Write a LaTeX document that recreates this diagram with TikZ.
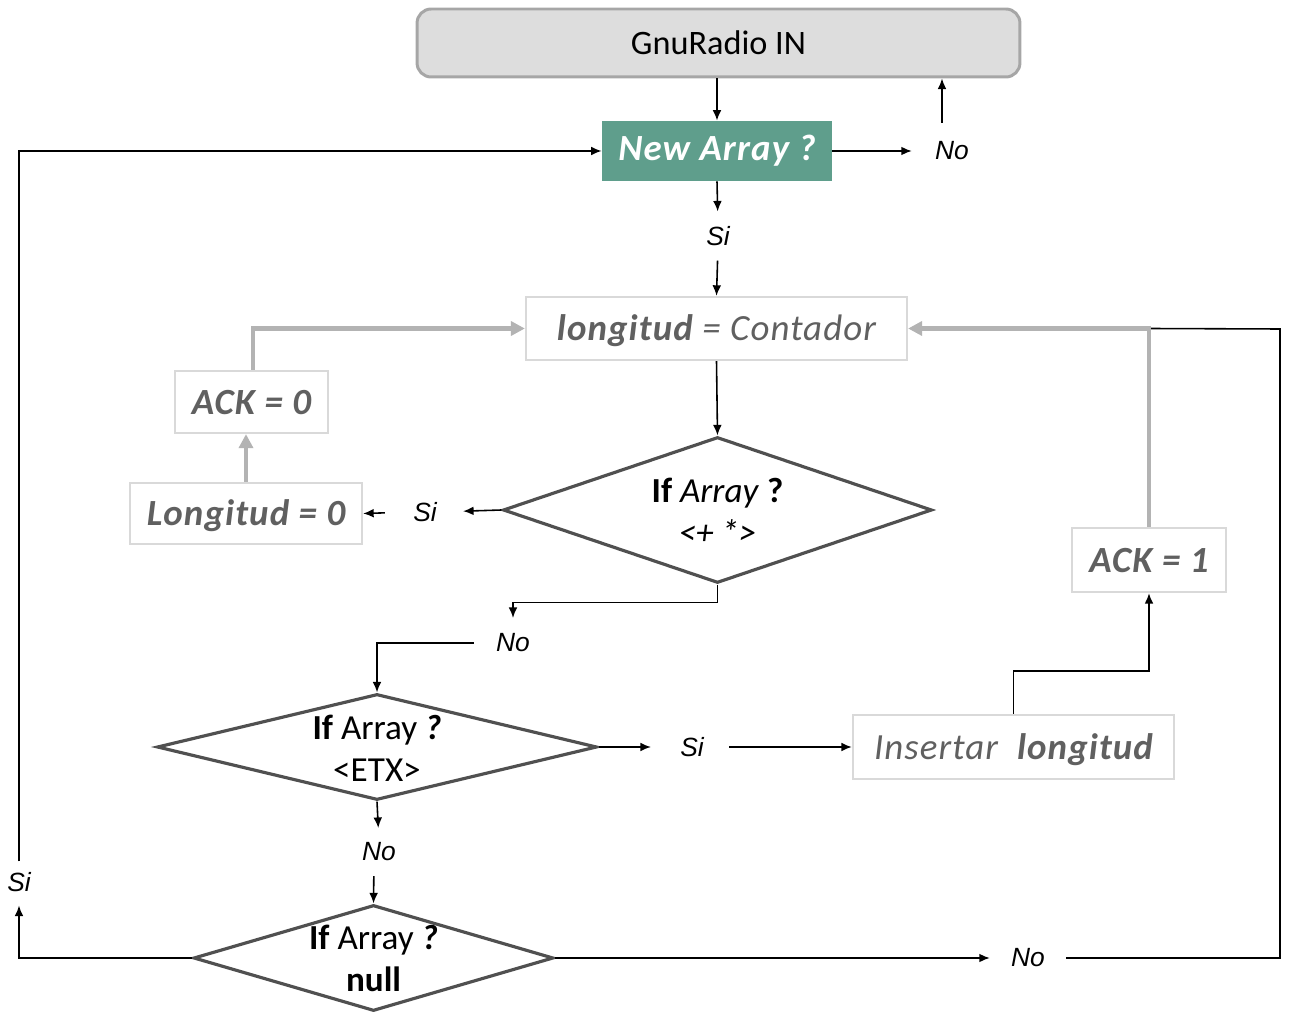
\documentclass[tikz,border=0pt]{standalone}
\usepackage{fontspec}
\setmainfont{Carlito}
\newfontfamily\answerfont{Liberation Sans}
\newfontfamily\stepfont[LetterSpace=3]{Carlito}
\usepackage{xcolor}
\usetikzlibrary{arrows.meta, positioning, shapes.geometric, calc}

\definecolor{arraygreen}{HTML}{5F9E8C}
\definecolor{sourcefill}{HTML}{DDDDDD}
\definecolor{sourcerim}{HTML}{A6A6A6}
\definecolor{stepgray}{HTML}{606060}
\definecolor{stepedge}{HTML}{D9D9D9}
\definecolor{feedgray}{HTML}{B3B3B3}
\definecolor{diamondgray}{HTML}{505050}

\begin{document}
\begin{tikzpicture}[
    x=0.02cm, y=-0.02cm,
    flow/.style={-{Latex[length=6pt,width=5pt]}, line width=0.9pt},
    feed/.style={-{Triangle[length=8pt,width=8pt]}, line width=2.8pt, draw=feedgray},
    action/.style={draw=stepedge, line width=1.3pt, fill=white, text=stepgray,
                   inner sep=0pt, text height=17pt, text depth=3pt,
                   font=\stepfont\fontsize{21}{23}\selectfont\bfseries\itshape},
    decision/.style={diamond, draw=diamondgray, line width=1.8pt, inner sep=0pt},
    question/.style={align=center, inner sep=0pt, font=\fontsize{20}{24}\selectfont},
    answer/.style={font=\answerfont\itshape\fontsize{15}{17}\selectfont, inner sep=0pt}
  ]
    \useasboundingbox (0,0) rectangle (1289,1013);

    % source and first test
    \node[draw=sourcerim, line width=1.7pt, fill=sourcefill, rounded corners=8pt,
          minimum width=12.06cm, minimum height=1.36cm,
          font=\fontsize{19.5}{22}\selectfont] (gnu) at (718.5,43) {GnuRadio IN};
    \node[fill=arraygreen, text=white, minimum width=4.6cm, minimum height=1.2cm,
          font=\stepfont\fontsize{21}{23}\selectfont\bfseries\itshape] (newarr) at (717,151)
      {New Array ?};
    \node[answer] (no1) at (952,151) {No};
    \node[answer] (si1) at (718,236) {Si};

    % counter and the three tests
    \node[action, minimum width=7.62cm, minimum height=1.26cm] (long) at (716.5,328.5)
      {longitud \mdseries= Contador};
    \node[decision, minimum width=8.58cm, minimum height=2.92cm] (d1) at (717.5,510) {};
    \node[question] (d1txt) at (717.5,511)
      {\textbf{If} \textit{Array} \textbf{?}\\ \textit{<+ *>}};
    \node[answer] (si2) at (425,512) {Si};
    \node[action, minimum width=4.64cm, minimum height=1.22cm] (lon0) at (246,513.5)
      {Longitud = 0};
    \node[action, minimum width=3.06cm, minimum height=1.24cm] (ack0) at (251.5,402)
      {ACK = 0};
    \node[answer] (no2) at (513,643) {No};

    \node[decision, minimum width=8.8cm, minimum height=2.12cm] (d2) at (377,747) {};
    \node[question] (d2txt) at (377,748)
      {\textbf{If} Array \textbf{\textit{?}}\\ <ETX>};
    \node[answer] (si3) at (692,747) {Si};
    \node[action, minimum width=6.42cm, minimum height=1.28cm] (insert) at (1013.5,747)
      {\mdseries Insertar\ \ \bfseries longitud};
    \node[action, minimum width=3.08cm, minimum height=1.28cm] (ack1) at (1149,560)
      {ACK = 1};
    \node[answer] (no3) at (379,852) {No};

    \node[decision, minimum width=7.2cm, minimum height=2.12cm] (d3) at (373.5,958) {};
    \node[question] (d3txt) at (373.5,958)
      {\textbf{If} Array \textbf{\textit{?}}\\ \textbf{null}};
    \node[answer] (si4) at (19,882) {Si};
    \node[answer] (no4) at (1028,958) {No};
    \coordinate (rim) at (1280,329);

    % thin arrows
    \draw[flow] (newarr.north |- gnu.south) -- (newarr.north);
    \draw[flow, shorten >=0.46cm] (newarr.east) -- (no1.west);
    \draw[flow, shorten <=0.37cm] ([xshift=-0.2cm]no1.north) -- ([xshift=-0.2cm]no1.north |- gnu.south);
    \draw[flow, shorten >=0.29cm] (newarr.south) -- (si1.north);
    \draw[flow, shorten <=0.29cm] (si1.south) -- (long.north);
    \draw[flow] (long.south) -- (d1.north);
    \draw[flow, shorten >=0.52cm] (d1.west) -- (si2.east);
    \draw[flow, shorten <=0.56cm] (si2.west) -- (lon0.east);
    \draw[flow, shorten >=0.31cm] (d1.south) -- ++(0,18) -| (no2.north);
    \draw[flow, shorten <=0.44cm] (no2.west) -| (d2.north);
    \draw[flow, shorten >=0.58cm] (d2.east) -- (si3.west);
    \draw[flow, shorten <=0.5cm] (si3.east) -- (insert.west);
    \draw[flow] (insert.north) -- ++(0,-43) -| (ack1.south);
    \draw[flow, shorten >=0.29cm] (d2.south) -- (no3.north);
    \draw[flow, shorten <=0.29cm] ([xshift=-0.1cm]no3.south) -- (d3.north);
    \draw[flow, shorten >=0.27cm] (d3.west) -| (si4.south);
    \draw[flow, shorten <=0.21cm] (si4.north) |- (newarr.west);
    \draw[flow, shorten >=0.42cm] (d3.east) -- (no4.west);
    \draw[line width=0.9pt, shorten <=0.42cm] (no4.east) -| (rim) -- (ack1.north |- long.east);

    % acknowledge paths
    \draw[feed] (lon0.north) -- (lon0.north |- ack0.south);
    \draw[feed] ([xshift=0.03cm]ack0.north) |- (long.west);
    \draw[feed] (ack1.north) |- (long.east);
  \end{tikzpicture}
\end{document}
